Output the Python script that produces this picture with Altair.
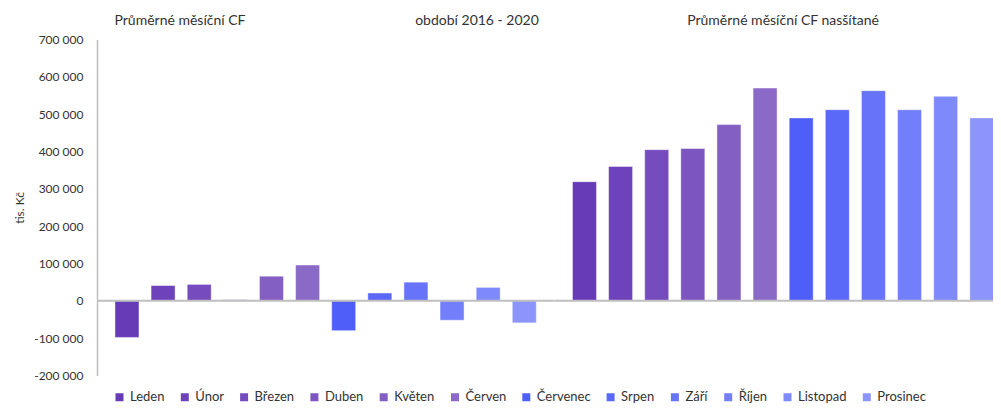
import altair as alt
import pandas as pd

months = ["Leden", "Únor", "Březen", "Duben", "Květen", "Červen",
          "Červenec", "Srpen", "Září", "Říjen", "Listopad", "Prosinec"]
monthly_cf = [-98000, 41000, 44000, 3000, 66000, 96000,
              -80000, 21000, 50000, -52000, 36000, -59000]
cumulative_cf = [319000, 360000, 405000, 408000, 472000, 570000,
                 490000, 512000, 563000, 512000, 548000, 490000]
colors = ["#673ab7", "#6e42ba", "#754bbd", "#7c55c0", "#835ec3", "#8b69c7",
          "#4f5ef8", "#5b69f8", "#6774f9", "#737ffa", "#7f8afa", "#8b95fb"]
left_titles = ["Průměrné měsíční CF", "období 2016 - 2020"]
right_titles = ["Průměrné měsíční CF nasšítané"]
y_ticks = [-200000, -100000, 0, 100000, 200000, 300000, 400000, 500000, 600000, 700000]

FONT = "Lato"
TXT = "#333333"
W = 444
GAP = 13.5
H = 336
SVG_W = 985
SVG_H = 394
PAD_L = 89
PAD_T = 31.5

df1 = pd.DataFrame({"month": months, "value": monthly_cf})
df2 = pd.DataFrame({"month": months, "value": cumulative_cf})

x_scale = alt.Scale(domain=months, paddingInner=0.335, paddingOuter=0.3136, align=0.793)
y_scale = alt.Scale(domain=[-200000, 700000], nice=False, zero=False)
color_scale = alt.Scale(domain=months, range=colors)

label_expr = ("datum.value == 0 ? '0' : (datum.value < 0 ? '-' : '') + "
              "format(abs(datum.value) / 1000, 'd') + ' 000'")

legend = alt.Legend(
    orient="none", legendX=16, legendY=351, direction="horizontal",
    title=None, symbolType="square", symbolSize=64, symbolStrokeWidth=0,
    labelFont=FONT, labelFontSize=13, labelColor=TXT, columnPadding=13.3,
    labelOffset=4,
)


def panel(df, titles, show_axis, rule_len, title_x):
    if show_axis:
        y_axis = alt.Axis(values=y_ticks, labelExpr=label_expr, grid=False, ticks=False,
                          domainColor="#bfbfbf", domainWidth=1.5, labelPadding=14,
                          labelOverlap=False,
                          labelFont=FONT, labelFontSize=12, labelColor=TXT,
                          title="tis. Kč", titleFont=FONT, titleFontSize=12,
                          titleFontWeight="normal", titleColor=TXT, titlePadding=7)
    else:
        y_axis = None
    bars = alt.Chart(df).mark_bar(stroke="white", strokeOpacity=0.45, strokeWidth=1).encode(
        x=alt.X("month:N", scale=x_scale, axis=None, sort=months),
        y=alt.Y("value:Q", scale=y_scale, axis=y_axis),
        color=alt.Color("month:N", scale=color_scale, legend=legend, sort=months),
    )
    rule = alt.Chart(pd.DataFrame({"v": [0]})).mark_rule(color="#bfbfbf", strokeWidth=2).encode(
        y=alt.Y("v:Q", scale=y_scale, axis=y_axis),
        x=alt.value(0), x2=alt.value(rule_len),
    )
    layers = [bars, rule]
    for t, xpos in zip(titles, title_x):
        layers.append(
            alt.Chart(pd.DataFrame({"t": [t]})).mark_text(
                font=FONT, fontSize=14, color=TXT, align="center", baseline="middle"
            ).encode(text="t:N", x=alt.value(xpos), y=alt.value(-19))
        )
    return alt.layer(*layers).properties(width=W, height=H)


left = panel(df1, left_titles, True, W + GAP, [83, 380])
right = panel(df2, right_titles, False, W, [228.5])

chart = alt.hconcat(left, right, spacing=GAP, bounds="flush").resolve_scale(
    y="shared", color="shared", x="shared"
).properties(
    autosize=alt.AutoSizeParams(type="none"),
    padding={"left": PAD_L, "top": PAD_T, "right": SVG_W - PAD_L, "bottom": SVG_H - PAD_T},
).configure_view(stroke=None)

chart.save("out.html", embed_options={"renderer": "svg", "actions": False})
